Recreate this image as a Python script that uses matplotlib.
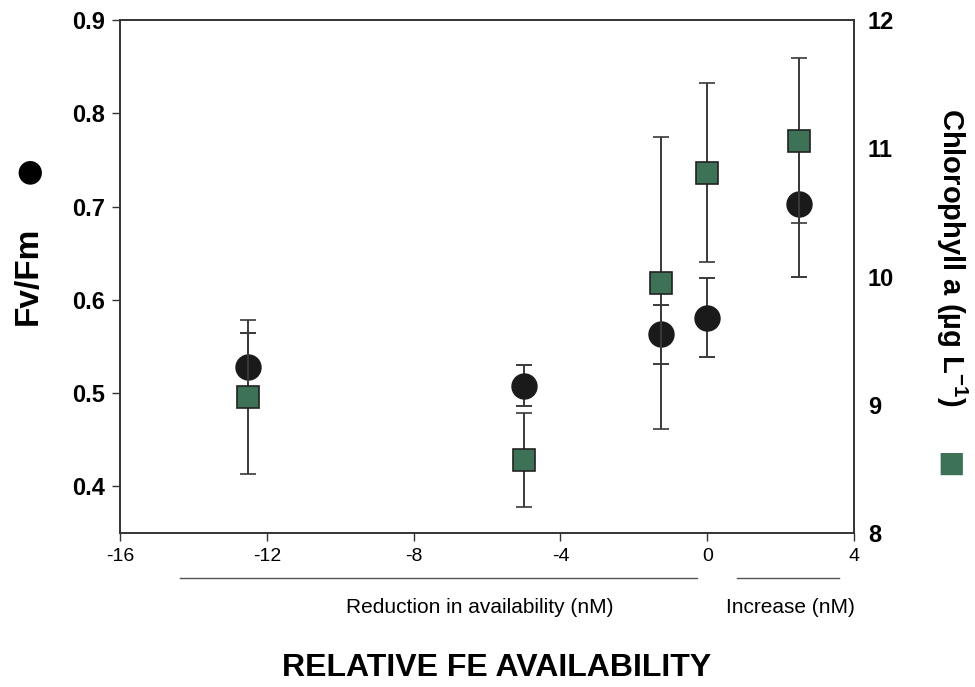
import matplotlib
matplotlib.use("Agg")
import matplotlib.pyplot as plt
import matplotlib.transforms as mtransforms

# data
fe_change = [-12.5, -5, -1.25, 0, 2.5]
fvfm = [0.528, 0.508, 0.563, 0.581, 0.703]
fvfm_err = [0.036, 0.022, 0.032, 0.042, 0.078]
chl = [9.06, 8.57, 9.95, 10.81, 11.06]
chl_err = [0.60, 0.37, 1.14, 0.70, 0.64]

xticks = [-16, -12, -8, -4, 0, 4]
left_ticks = [0.4, 0.5, 0.6, 0.7, 0.8, 0.9]
right_ticks = [8, 9, 10, 11, 12]

plt.rcParams['font.family'] = ['Liberation Sans', 'DejaVu Sans']
plt.rcParams['mathtext.fontset'] = 'custom'
plt.rcParams['mathtext.rm'] = 'Liberation Sans:bold'
plt.rcParams['mathtext.default'] = 'rm'

narrow = ['Liberation Sans Narrow', 'Liberation Sans', 'DejaVu Sans']
green = '#3e7257'
errc = '#3a3a3a'

fig = plt.figure(figsize=(9.75, 6.87), dpi=100)
ax = fig.add_axes([0.123, 0.224, 0.753, 0.747])
ax2 = ax.twinx()

ax.errorbar(fe_change, fvfm, yerr=fvfm_err, fmt='o', color='#1a1a1a', ms=18,
            mec='#1a1a1a', ecolor=errc, elinewidth=1.4,
            capsize=5.8, capthick=1.4, zorder=3)
ax2.errorbar(fe_change, chl, yerr=chl_err, fmt='s', color=green, ms=16,
             mec='#222222', mew=1.2, ecolor=errc, elinewidth=1.4,
             capsize=5.8, capthick=1.4, zorder=2)

ax.set_xlim(-16, 4)
ax.set_ylim(0.35, 0.9)
ax2.set_ylim(8, 12)
ax.set_xticks(xticks)
ax.set_xticklabels([str(t) for t in xticks], fontsize=14, family=narrow)
ax.set_yticks(left_ticks)
ax.set_yticklabels([f'{t:.1f}' for t in left_ticks], fontsize=17, fontweight='bold')
ax2.set_yticks(right_ticks)
ax2.set_yticklabels([str(t) for t in right_ticks], fontsize=17, fontweight='bold')

ax.tick_params(direction='out', length=6, width=1, color='#333333', pad=5)
ax2.tick_params(axis='y', length=0, pad=10)
for a in (ax, ax2):
    for s in a.spines.values():
        s.set_linewidth(1.2)
        s.set_color('#333333')

# left label with circle symbol
fig.text(0.029, 0.598, 'Fv/Fm', rotation=90, fontsize=24, fontweight='bold',
         ha='center', va='center')
fig.text(0.030, 0.75, '\u25CF', fontsize=22, ha='center', va='center',
         family=['DejaVu Sans'])

# right label with square symbol
fig.text(0.976, 0.625, 'Chlorophyll a (\u00b5g L$^{-1}$)', rotation=270,
         fontsize=21, fontweight='bold', ha='center', va='center')
fig.text(0.976, 0.325, '\u25A0', fontsize=21, ha='center', va='center',
         color=green, family=['DejaVu Sans'])

# bracket lines under the x axis
trans = mtransforms.blended_transform_factory(ax.transData, ax.transAxes)
ax.plot([-14.35, -0.27], [-0.088, -0.088], transform=trans, color='#555555',
        lw=1, clip_on=False)
ax.plot([0.8, 3.6], [-0.088, -0.088], transform=trans, color='#555555',
        lw=1, clip_on=False)
ax.text(-6.2, -0.145, 'Reduction in availability (nM)', transform=trans,
        fontsize=15, ha='center', va='center', family=narrow)
ax.text(2.26, -0.145, 'Increase (nM)', transform=trans,
        fontsize=15, ha='center', va='center', family=narrow)

fig.text(0.509, 0.028, 'RELATIVE FE AVAILABILITY', fontsize=23,
         fontweight='bold', ha='center', va='center')

fig.savefig('out.png', dpi=100)
